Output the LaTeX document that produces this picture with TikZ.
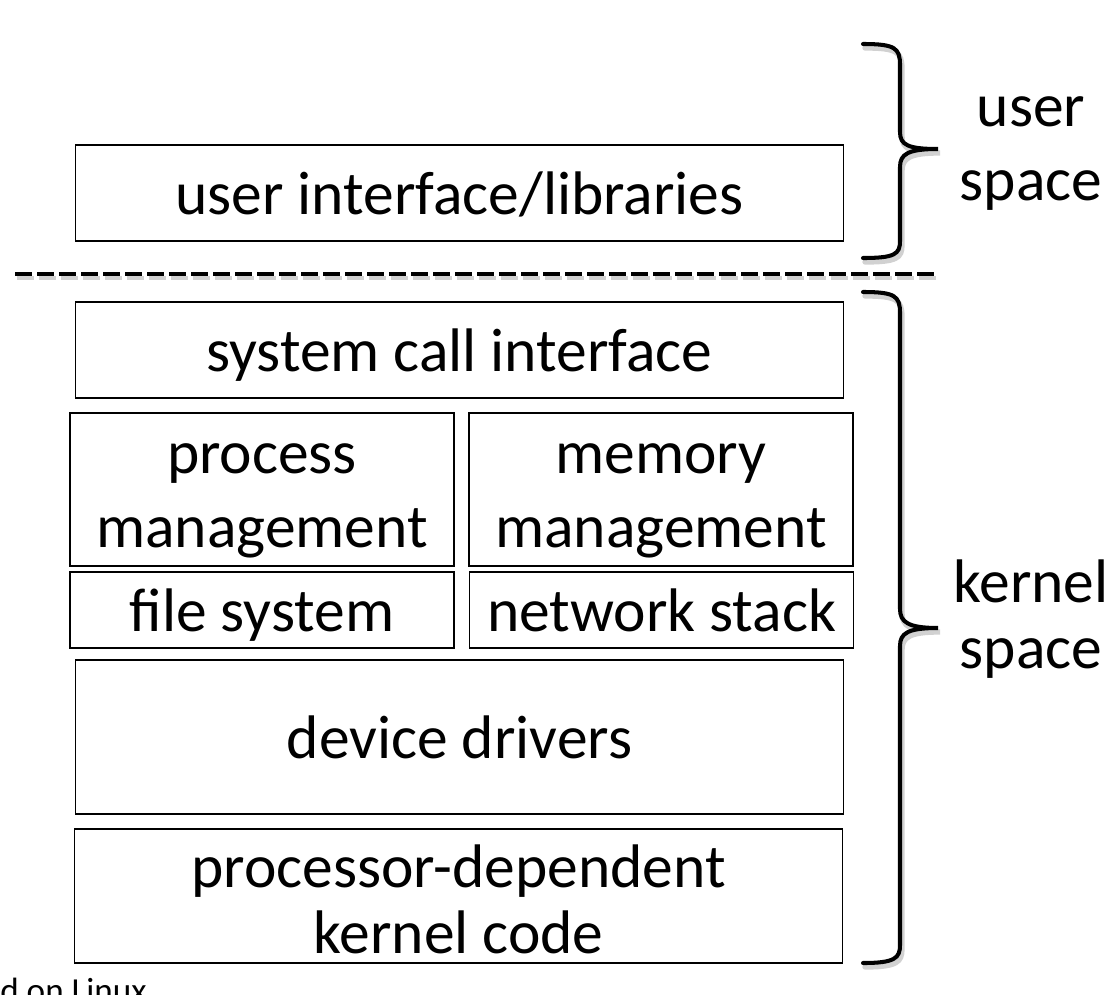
\documentclass[tikz,border=0pt]{standalone}
\usepackage{fontspec}
\setmainfont{Carlito}
\usepackage{tikz}
\usepackage{xcolor}
\newcommand{\tstrut}[1][33pt]{\rule{0pt}{#1}}
\newcommand{\bstrut}{\rule[-9pt]{0pt}{9pt}}

\begin{document}
\begin{tikzpicture}[x=0.2cm,y=0.2cm]
\tikzstyle{every node}+=[inner sep=0pt]
\tikzstyle{layer}=[draw=black, line width=1.1pt, align=center, font=\fontsize{35}{42}\selectfont]
\tikzstyle{wide}=[layer, minimum width=15.36cm]
\tikzstyle{half}=[layer, minimum width=7.68cm]
\tikzstyle{space label}=[align=center, font=\fontsize{35}{42}\selectfont]
\tikzstyle{brace}=[black, line width=2.3pt, line cap=round]
\tikzstyle{brace shadow}=[black!18, line width=3pt, line cap=round]
\useasboundingbox (0,0) rectangle (111.6,-99.4);
\node [wide, minimum height=1.92cm] (ui) at (45.95,-19.3) {\tstrut user interface/libraries\bstrut};
\node [wide, minimum height=1.92cm] (sci) at (45.95,-35.0) {\tstrut system call interface\bstrut};
\node [half, minimum height=3.06cm] (pm) at (26.2,-48.95) {\tstrut process\\management\bstrut};
\node [half, minimum height=3.06cm] (mm) at (66.1,-48.95) {\tstrut memory\\management\bstrut};
\node [half, minimum height=1.52cm] (fs) at (26.2,-61.0) {\tstrut file system\bstrut};
\node [half, minimum height=1.52cm] (ns) at (66.15,-61.0) {\tstrut network stack\bstrut};
\node [wide, minimum height=3.08cm] (dd) at (45.95,-73.7) {\tstrut device drivers\bstrut};
\node [wide, minimum height=2.68cm, font=\fontsize{35}{37.5}\selectfont] (pd) at (45.85,-89.6) {\tstrut[28pt]processor-dependent\\kernel code};
\draw [black!18, line width=2.8pt, dash pattern=on 0.34cm off 0.1cm] (1.7,-27.8) -- (93.9,-27.8);
\draw [black, line width=2.6pt, dash pattern=on 0.34cm off 0.1cm] (1.5,-27.4) -- (93.7,-27.4);
\draw [brace shadow] (86.5,-4.8) .. controls (89.7,-4.8) and (90.2,-5.2) .. (90.2,-6.9) -- (90.2,-13.6) .. controls (90.2,-14.9) and (91,-15.3) .. (94,-15.3) .. controls (91,-15.3) and (90.2,-15.8) .. (90.2,-17.1) -- (90.2,-24.5) .. controls (90.2,-25.8) and (89.7,-26.2) .. (86.5,-26.2);
\draw [brace] (86.3,-4.4) .. controls (89.5,-4.4) and (90,-4.8) .. (90,-6.5) -- (90,-13.2) .. controls (90,-14.5) and (90.8,-14.9) .. (93.8,-14.9) .. controls (90.8,-14.9) and (90,-15.4) .. (90,-16.7) -- (90,-24.1) .. controls (90,-25.4) and (89.5,-25.8) .. (86.3,-25.8);
\draw [brace shadow] (86.5,-29.6) .. controls (89.7,-29.6) and (90.2,-30.0) .. (90.2,-31.7) -- (90.2,-61.3) .. controls (90.2,-62.6) and (91,-63.2) .. (94,-63.2) .. controls (91,-63.2) and (90.2,-63.7) .. (90.2,-65.0) -- (90.2,-94.9) .. controls (90.2,-96.2) and (89.7,-96.7) .. (86.5,-96.7);
\draw [brace] (86.3,-29.2) .. controls (89.5,-29.2) and (90,-29.6) .. (90,-31.3) -- (90,-60.9) .. controls (90,-62.2) and (90.8,-62.8) .. (93.8,-62.8) .. controls (90.8,-62.8) and (90,-63.3) .. (90,-64.6) -- (90,-94.5) .. controls (90,-95.8) and (89.5,-96.3) .. (86.3,-96.3);
\node [space label] (user) at (103.1,-14.25) {\tstrut user\\space\bstrut};
\node [space label, font=\fontsize{35}{37.5}\selectfont] (kernel) at (103.1,-61.4) {\tstrut kernel\\space\bstrut};
\node [anchor=base west, font=\fontsize{20}{24}\selectfont] (note) at (0,-100.2) {d on Linux};
\end{tikzpicture}
\end{document}
